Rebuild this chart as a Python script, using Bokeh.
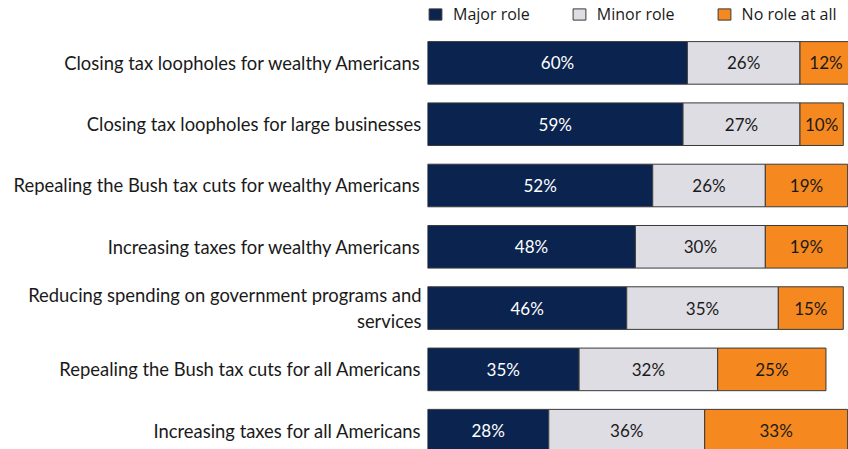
from bokeh.plotting import figure
from bokeh.models import ColumnDataSource, Range1d, FixedTicker, Legend, LegendItem
from bokeh.core.properties import value
from bokeh.embed import file_html
from bokeh.resources import INLINE

categories = [
    "Closing tax loopholes for wealthy Americans",
    "Closing tax loopholes for large businesses",
    "Repealing the Bush tax cuts for wealthy Americans",
    "Increasing taxes for wealthy Americans",
    "Reducing spending on government programs and\nservices",
    "Repealing the Bush tax cuts for all Americans",
    "Increasing taxes for all Americans",
]
series_names = ["Major role", "Minor role", "No role at all"]
major_role = [60, 59, 52, 48, 46, 35, 28]
minor_role = [26, 27, 26, 30, 35, 32, 36]
no_role = [12, 10, 19, 19, 15, 25, 33]

colors = ["#0b244f", "#dddde3", "#f5891f"]
text_colors = ["#ffffff", "#1a1a1a", "#1a1a1a"]
LABEL_FONT = "Lato"
LEGEND_FONT = "Open Sans"

p = figure(width=848, height=449, output_backend="svg", toolbar_location=None,
           x_range=Range1d(0, 97.2), y_range=Range1d(start=6.307, end=-1.018),
           x_axis_location=None, min_border_left=427, min_border_right=0,
           min_border_top=0, min_border_bottom=0, outline_line_color=None)
p.grid.visible = False

ys = list(range(len(categories)))
lefts = [0] * len(categories)
items = []
for name, vals, col, tcol in zip(series_names, [major_role, minor_role, no_role], colors, text_colors):
    rights = [l + v for l, v in zip(lefts, vals)]
    src = ColumnDataSource(dict(
        y=ys, left=lefts, right=rights,
        xc=[(l + r) / 2 for l, r in zip(lefts, rights)],
        label=[f"{v}%" for v in vals],
    ))
    r = p.hbar(y="y", left="left", right="right", height=0.695, source=src,
               fill_color=col, line_color="#3a3a3a", line_width=1)
    p.text(x="xc", y="y", text="label", source=src, text_align="center",
           text_baseline="middle", text_color=tcol, text_font=value(LABEL_FONT),
           text_font_size="17px")
    items.append(LegendItem(label=name, renderers=[r]))
    lefts = rights

legend = Legend(items=items, orientation="horizontal", location=(0, 424),
                margin=0, padding=0, spacing=41, label_standoff=10,
                glyph_width=16, glyph_height=14, label_height=14,
                label_text_font=LEGEND_FONT, label_text_font_size="16px",
                label_text_color="#1a1a1a", border_line_color=None,
                background_fill_alpha=0)
p.add_layout(legend, "center")

ax = p.yaxis[0]
ax.ticker = FixedTicker(ticks=ys)
ax.major_label_overrides = {i: c for i, c in enumerate(categories)}
ax.axis_line_color = None
ax.major_tick_line_color = None
ax.minor_tick_line_color = None
ax.major_label_standoff = 0
ax.major_label_text_font = LABEL_FONT
ax.major_label_text_font_size = "18.4px"
ax.major_label_text_color = "#1a1a1a"

open("out.html", "w").write(file_html(p, INLINE))
